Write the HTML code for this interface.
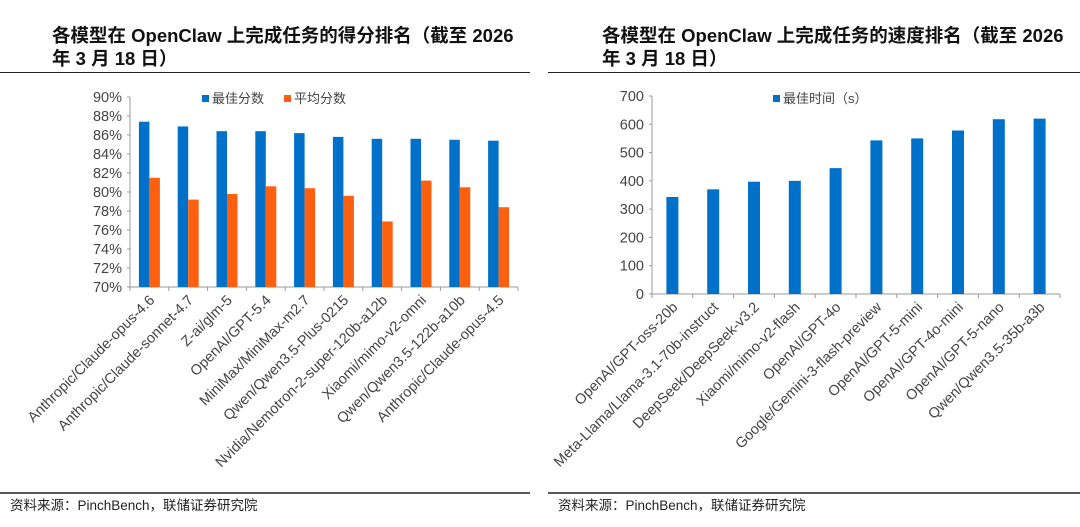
<!DOCTYPE html>
<html><head><meta charset="utf-8"><style>
body{margin:0;background:#fff;width:1080px;height:527px;overflow:hidden}
svg{display:block}
</style></head><body>
<svg id="s" width="1080" height="527" xmlns="http://www.w3.org/2000/svg" font-family="Liberation Sans, Noto Sans CJK SC, sans-serif">
<g font-weight="bold" font-size="18.5" fill="#111">
<text x="52" y="42">各模型在 OpenClaw 上完成任务的得分排名（截至 2026</text>
<text x="52" y="65">年 3 月 18 日）</text></g>
<g font-weight="bold" font-size="18.5" fill="#111">
<text x="602" y="42">各模型在 OpenClaw 上完成任务的速度排名（截至 2026</text>
<text x="602" y="65">年 3 月 18 日）</text></g>
<line x1="0" y1="72.5" x2="530" y2="72.5" stroke="#222" stroke-width="1"/>
<line x1="548" y1="72.5" x2="1080" y2="72.5" stroke="#222" stroke-width="1"/>
<line x1="0" y1="493" x2="530" y2="493" stroke="#222" stroke-width="1.5"/>
<line x1="548" y1="493" x2="1080" y2="493" stroke="#222" stroke-width="1.5"/>
<text x="10" y="510" font-size="13.5" fill="#222">资料来源：PinchBench，联储证券研究院</text>
<text x="558" y="510" font-size="13.5" fill="#222">资料来源：PinchBench，联储证券研究院</text>
<g id="L"></g><g id="R"></g>
</svg>
<script>
const leftCats=["Anthropic/Claude-opus-4.6","Anthropic/Claude-sonnet-4.7","Z-ai/glm-5","OpenAI/GPT-5.4","MiniMax/MiniMax-m2.7","Qwen/Qwen3.5-Plus-0215","Nvidia/Nemotron-2-super-120b-a12b","Xiaomi/mimo-v2-omni","Qwen/Qwen3.5-122b-a10b","Anthropic/Claude-opus-4.5"];
const bestScore=[87.4,86.9,86.4,86.4,86.2,85.8,85.6,85.6,85.5,85.4];
const avgScore=[81.5,79.2,79.8,80.6,80.4,79.6,76.9,81.2,80.5,78.4];
const leftTicks=[70,72,74,76,78,80,82,84,86,88,90];
const rightCats=["OpenAI/GPT-oss-20b","Meta-Llama/Llama-3.1-70b-instruct","DeepSeek/DeepSeek-v3.2","Xiaomi/mimo-v2-flash","OpenAI/GPT-4o","Google/Gemini-3-flash-preview","OpenAI/GPT-5-mini","OpenAI/GPT-4o-mini","OpenAI/GPT-5-nano","Qwen/Qwen3.5-35b-a3b"];
const bestTime=[343,370,397,400,445,543,550,578,618,620];
const rightTicks=[0,100,200,300,400,500,600,700];
const NS="http://www.w3.org/2000/svg";
function mk(p,t,a){const e=document.createElementNS(NS,t);for(const k in a)e.setAttribute(k,a[k]);p.appendChild(e);return e;}
function chart(g,cats,series,colors,ticks,fmt,x0,x1,yTop,yBot,bw){
  const lo=ticks[0],hi=ticks[ticks.length-1];
  const y=v=>yBot-(v-lo)/(hi-lo)*(yBot-yTop);
  const step=(x1-x0)/cats.length;
  const ax=mk(g,'line',{x1:x0,y1:yTop,x2:x0,y2:yBot,stroke:'#999'});
  
  const xa=mk(g,'line',{x1:x0,y1:yBot,x2:x1,y2:yBot,stroke:'#999'});
  
  ticks.forEach(t=>{
    const yy=y(t);
    mk(g,'line',{x1:x0-3,y1:yy,x2:x0,y2:yy,stroke:'#999'});
    const tx=mk(g,'text',{x:x0-8,y:yy+5,'text-anchor':'end','font-size':14.5,fill:'#444'});
    tx.textContent=fmt(t);
    
  });
  for(let i=0;i<=cats.length;i++){mk(g,'line',{x1:x0+i*step,y1:yBot,x2:x0+i*step,y2:yBot+4,stroke:'#999'});}
  cats.forEach((c,i)=>{
    const cx=x0+(i+0.5)*step;
    const n=series.length;
    series.forEach((s,j)=>{
      const bx=cx-n*bw/2+j*bw;
      const r=mk(g,'rect',{x:bx,y:y(s[i]),width:bw,height:yBot-y(s[i]),fill:colors[j]});
      
      
    });
    const tx=mk(g,'text',{x:0,y:0,'text-anchor':'end','font-size':14.5,fill:'#444',transform:`translate(${cx+6},${yBot+14}) rotate(-45)`});
    tx.textContent=c;
    
  });
}
const L=document.getElementById('L'),R=document.getElementById('R');
chart(L,leftCats,[bestScore,avgScore],['#0070c8','#ff6010'],leftTicks,t=>t+'%',130,518,97,287,10.5);
chart(R,rightCats,[bestTime],['#0070c8'],rightTicks,t=>String(t),652,1060,96,294,12);
function legend(g,x,y,col,label,name){
  const r=mk(g,'rect',{x:x,y:y-8,width:7,height:7,fill:col});
  const t=mk(g,'text',{x:x+10,y:y,'font-size':13,fill:'#444'});t.textContent=label;
  
}
legend(L,202,103,'#0070c8','最佳分数','legend-best-score');
legend(L,284,103,'#ff6010','平均分数','legend-avg-score');
legend(R,773,103,'#0070c8','最佳时间（s）','legend-best-time');
</script>
</body></html>
